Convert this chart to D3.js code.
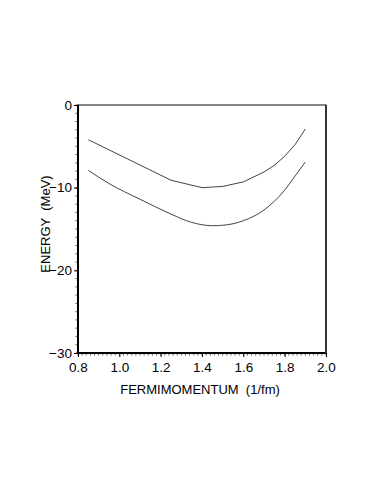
<!DOCTYPE html>
<html>
<head>
<meta charset="utf-8">
<script src="https://cdn.jsdelivr.net/npm/d3@7"></script>
<style>
  body { margin: 0; background: #fff; }
  svg text { font-family: "Liberation Sans", Arial, sans-serif; fill: #000; }
</style>
</head>
<body>
<div id="chartArea"></div>
<script>
// curves
var upperK = [0.85, 1.25, 1.4, 1.5, 1.6, 1.7, 1.75, 1.8, 1.85, 1.9];
var upperE = [-4.2, -9.1, -10.0, -9.85, -9.3, -8.1, -7.3, -6.2, -4.8, -2.9];
var lowerK = [0.85, 0.95, 1.1, 1.25, 1.35, 1.45, 1.5, 1.6, 1.7, 1.8, 1.85, 1.9];
var lowerE = [-7.9, -9.5, -11.4, -13.2, -14.2, -14.6, -14.55, -14.0, -12.7, -10.3, -8.6, -6.9];
var xTicks = [0.8, 1.0, 1.2, 1.4, 1.6, 1.8, 2.0];
var yTicks = [0, -10, -20, -30];

var width = 382, height = 494;
var margin = {top: 105, right: 56, bottom: 141, left: 78};
var w = width - margin.left - margin.right;
var h = height - margin.top - margin.bottom;

var xscale = d3.scaleLinear().domain([0.8, 2.0]).range([0, w]);
var yscale = d3.scaleLinear().domain([-30, 0]).range([h, 0]);

var svg = d3.select('#chartArea').append('svg')
    .attr('width', width)
    .attr('height', height);
var g = svg.append('g')
    .attr('transform', 'translate(' + margin.left + ',' + margin.top + ')');

// minor ticks
var xMinor = d3.range(0, 61).map(function(i){ return 0.8 + i * 0.02; });
var yMinor = d3.range(0, 31).map(function(i){ return -i; });
g.append('g').selectAll('line').data(xMinor).enter().append('line')
    .attr('x1', function(d){ return xscale(d); })
    .attr('x2', function(d){ return xscale(d); })
    .attr('y1', h).attr('y2', h + 2.5)
    .attr('stroke', '#333').attr('stroke-width', 0.8);
g.append('g').selectAll('line').data(yMinor).enter().append('line')
    .attr('y1', function(d){ return yscale(d); })
    .attr('y2', function(d){ return yscale(d); })
    .attr('x1', 0).attr('x2', -2.5)
    .attr('stroke', '#333').attr('stroke-width', 0.8);

// major ticks + labels via d3 axes
var xAxis = g.append('g')
    .attr('transform', 'translate(0,' + h + ')')
    .call(d3.axisBottom(xscale).tickValues(xTicks).tickFormat(d3.format('.1f'))
        .tickSize(4).tickPadding(5));
var yAxis = g.append('g')
    .call(d3.axisLeft(yscale).tickValues(yTicks)
        .tickFormat(function(d){ return d === 0 ? '0' : '\u2212' + Math.abs(d); })
        .tickSize(4).tickPadding(2));
[xAxis, yAxis].forEach(function(a){
    a.select('.domain').remove();
    a.selectAll('text').style('font-size', '13.5px')
        .style('font-family', '"Liberation Sans", Arial, sans-serif');
    a.selectAll('line').attr('stroke', '#000');
});

// frame
g.append('rect')
    .attr('x', 0).attr('y', 0).attr('width', w).attr('height', h)
    .attr('fill', 'none').attr('stroke', '#333').attr('stroke-width', 1.2);
g.append('path')
    .attr('d', 'M0,0V' + h + 'H' + w)
    .attr('fill', 'none').attr('stroke', '#000').attr('stroke-width', 2);
g.append('line')
    .attr('x1', w).attr('x2', w).attr('y1', 0).attr('y2', h)
    .attr('stroke', '#333').attr('stroke-width', 2);

// curves
var upperLine = d3.line()
    .x(function(d){ return xscale(d[0]); })
    .y(function(d){ return yscale(d[1]); });
var lowerLine = d3.line()
    .x(function(d){ return xscale(d[0]); })
    .y(function(d){ return yscale(d[1]); })
    .curve(d3.curveMonotoneX);
g.append('path')
    .datum(d3.zip(upperK, upperE))
    .attr('d', upperLine)
    .attr('fill', 'none').attr('stroke', '#444').attr('stroke-width', 1);
g.append('path')
    .datum(d3.zip(lowerK, lowerE))
    .attr('d', lowerLine)
    .attr('fill', 'none').attr('stroke', '#444').attr('stroke-width', 1);

// axis titles
svg.append('text')
    .attr('x', margin.left + w / 2 - 2)
    .attr('y', margin.top + h + 41)
    .attr('text-anchor', 'middle')
    .style('font-size', '13px')
    .style('white-space', 'pre')
    .text('FERMIMOMENTUM  (1/fm)');
svg.append('text')
    .attr('transform', 'translate(49.5,' + (margin.top + h / 2 - 5) + ') rotate(-90)')
    .attr('text-anchor', 'middle')
    .style('font-size', '13px')
    .style('white-space', 'pre')
    .text('ENERGY  (MeV)');
</script>
</body>
</html>
